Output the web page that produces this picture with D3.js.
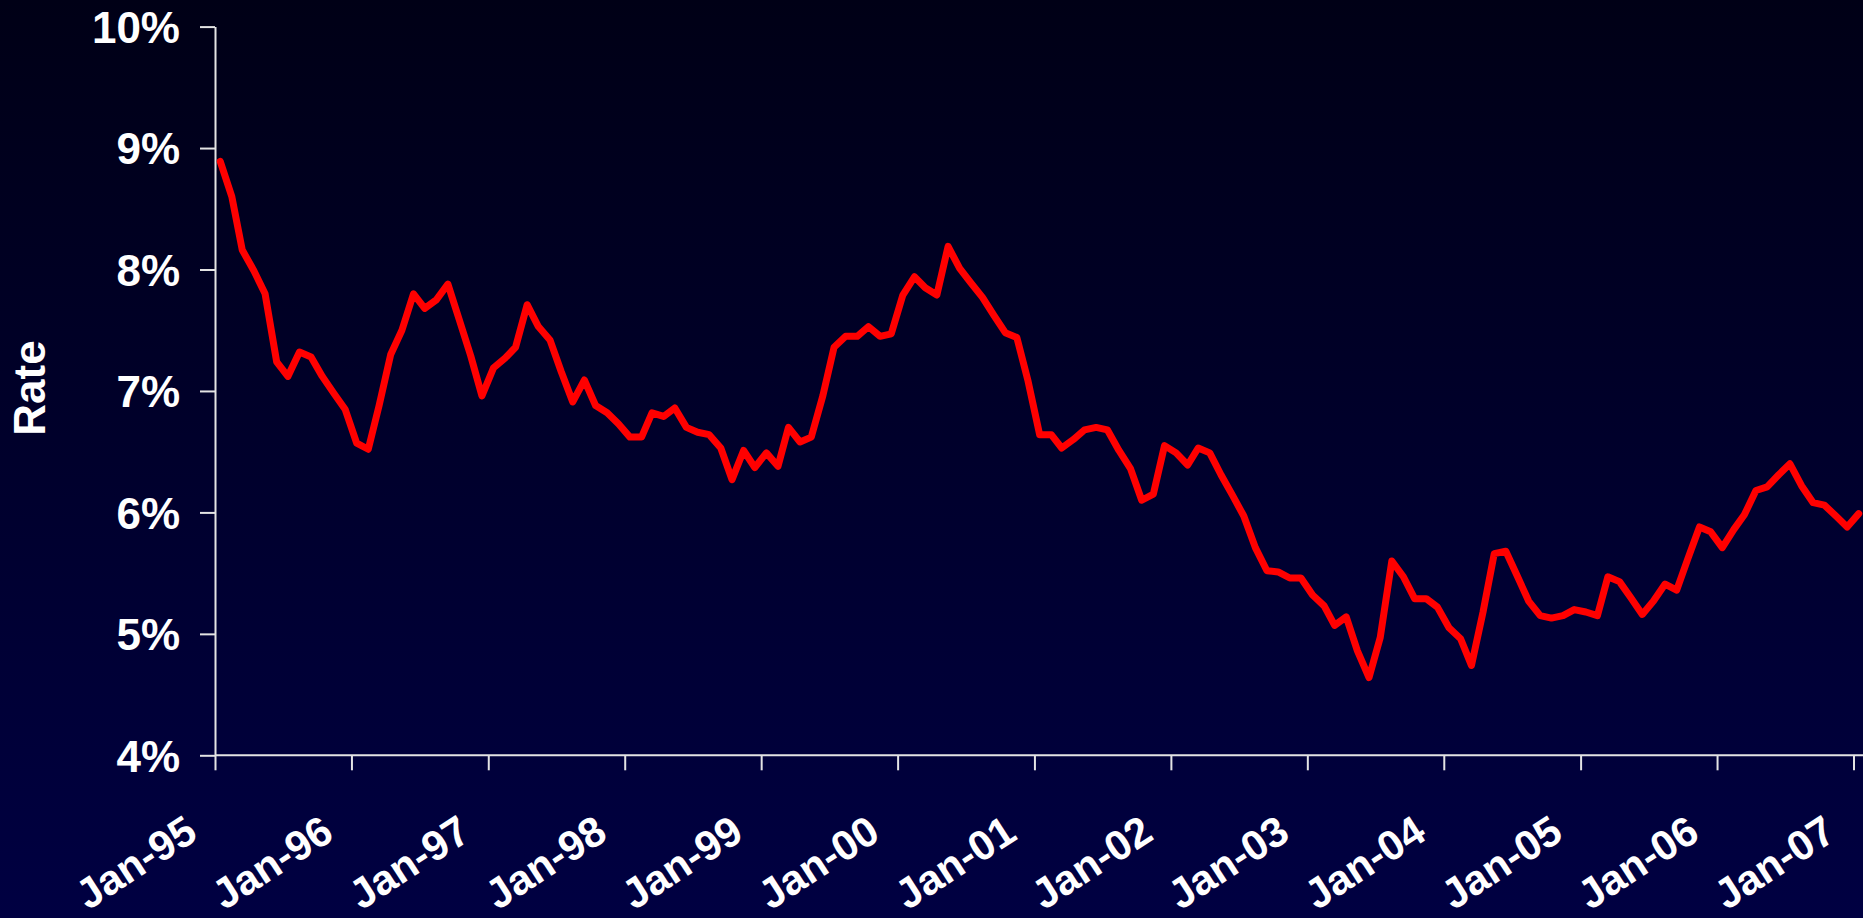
<!DOCTYPE html>
<html>
<head>
<meta charset="utf-8">
<script src="https://cdn.jsdelivr.net/npm/d3@7"></script>
<style>
  html, body { margin: 0; padding: 0; background: #000014; overflow: hidden; }
  svg { display: block; }
  text { font-family: "Liberation Sans", Arial, sans-serif; font-weight: bold; fill: #ffffff; }
</style>
</head>
<body>
<svg id="chart" width="1863" height="918"></svg>
<script>
// Monthly rate series, Jan-95 through Jan-07 (percent)
const firstMonth = new Date(1995, 0, 1);
const rates = [
  8.89, 8.60, 8.16, 7.99, 7.80, 7.24, 7.12, 7.32, 7.28, 7.12, 6.98, 6.85,
  6.57, 6.52, 6.88, 7.30, 7.50, 7.80, 7.68, 7.75, 7.88, 7.59, 7.29, 6.96,
  7.19, 7.27, 7.36, 7.71, 7.53, 7.42, 7.16, 6.91, 7.09, 6.88, 6.82, 6.73,
  6.62, 6.62, 6.82, 6.79, 6.86, 6.70, 6.66, 6.64, 6.53, 6.27, 6.51, 6.37,
  6.49, 6.38, 6.70, 6.58, 6.62, 6.96, 7.36, 7.45, 7.45, 7.53, 7.45, 7.47,
  7.79, 7.94, 7.85, 7.79, 8.19, 8.01, 7.89, 7.77, 7.62, 7.48, 7.44, 7.08,
  6.64, 6.64, 6.53, 6.60, 6.68, 6.70, 6.68, 6.51, 6.36, 6.10, 6.15, 6.55,
  6.49, 6.39, 6.53, 6.49, 6.31, 6.14, 5.97, 5.71, 5.52, 5.51, 5.46, 5.46,
  5.32, 5.23, 5.07, 5.14, 4.86, 4.64, 4.97, 5.60, 5.47, 5.29, 5.29, 5.22,
  5.05, 4.96, 4.74, 5.18, 5.66, 5.68, 5.48, 5.27, 5.15, 5.13, 5.15, 5.20,
  5.18, 5.15, 5.47, 5.43, 5.30, 5.16, 5.27, 5.41, 5.36, 5.62, 5.88, 5.84,
  5.71, 5.86, 5.98, 6.18, 6.21, 6.31, 6.40, 6.22, 6.08, 6.06, 5.97, 5.88,
  5.99
];

// Axis ticks
const yTicks = [4, 5, 6, 7, 8, 9, 10];
const xTickYears = [1995, 1996, 1997, 1998, 1999, 2000, 2001, 2002, 2003, 2004, 2005, 2006, 2007];
const xTickLabels = ["Jan-95", "Jan-96", "Jan-97", "Jan-98", "Jan-99", "Jan-00", "Jan-01",
                     "Jan-02", "Jan-03", "Jan-04", "Jan-05", "Jan-06", "Jan-07"];
const yLabel = "Rate";

const W = 1863, H = 918;
const plot = { left: 215, right: 1853.5, top: 26.6, bottom: 755.3 };

const svg = d3.select("#chart");

// Background gradient, dark at the top to navy at the bottom
const defs = svg.append("defs");
const grad = defs.append("linearGradient")
  .attr("id", "bg").attr("x1", 0).attr("y1", 0).attr("x2", 0).attr("y2", 1);
grad.append("stop").attr("offset", "0%").attr("stop-color", "#000016");
grad.append("stop").attr("offset", "100%").attr("stop-color", "#000042");
svg.append("rect").attr("width", W).attr("height", H).attr("fill", "url(#bg)");

// Scales
const x = d3.scaleTime()
  .domain([new Date(1995, 0, 1), new Date(2007, 0, 1)])
  .range([plot.left, plot.right]);
const y = d3.scaleLinear()
  .domain([4, 10])
  .range([plot.bottom, plot.top]);

const data = rates.map((v, i) => ({
  // each monthly value sits in the middle of its month
  date: new Date(firstMonth.getFullYear(), firstMonth.getMonth() + i, 15),
  value: v
}));

const axisColor = "#e4e4e4";

// Y axis
const yAxis = svg.append("g")
  .attr("transform", `translate(${plot.left},0)`)
  .call(d3.axisLeft(y)
    .tickValues(yTicks)
    .tickSize(15)
    .tickSizeOuter(0)
    .tickPadding(20)
    .tickFormat(d => d + "%"));
yAxis.select(".domain").attr("stroke", axisColor).attr("stroke-width", 2);
yAxis.selectAll(".tick line").attr("stroke", axisColor).attr("stroke-width", 2);
yAxis.selectAll(".tick text")
  .attr("font-size", 44)
  .attr("dy", "0.36em")
  .attr("fill", "#ffffff");

// X axis
const xAxis = svg.append("g")
  .attr("transform", `translate(0,${plot.bottom})`)
  .call(d3.axisBottom(x)
    .tickValues(xTickYears.map(yr => new Date(yr, 0, 1)))
    .tickSize(15)
    .tickSizeOuter(0)
    .tickFormat((d, i) => xTickLabels[i]));
xAxis.select(".domain").remove();
xAxis.append("line")
  .attr("x1", plot.left).attr("x2", W)
  .attr("y1", 0).attr("y2", 0)
  .attr("stroke", axisColor).attr("stroke-width", 2);
xAxis.selectAll(".tick line").attr("stroke", axisColor).attr("stroke-width", 2);
xAxis.selectAll(".tick text")
  .attr("font-size", 42)
  .attr("y", 0).attr("dy", 0)
  .attr("text-anchor", "end")
  .attr("transform", "translate(-16,83) rotate(-33)")
  .attr("fill", "#ffffff");

// Y axis title
svg.append("text")
  .attr("transform", `translate(45,388) rotate(-90)`)
  .attr("text-anchor", "middle")
  .attr("font-size", 44)
  .text(yLabel);

// Rate line
const line = d3.line()
  .x(d => x(d.date))
  .y(d => y(d.value));
svg.append("path")
  .datum(data)
  .attr("fill", "none")
  .attr("stroke", "#ff0000")
  .attr("stroke-width", 7)
  .attr("stroke-linejoin", "round")
  .attr("stroke-linecap", "round")
  .attr("d", line);
</script>
</body>
</html>
